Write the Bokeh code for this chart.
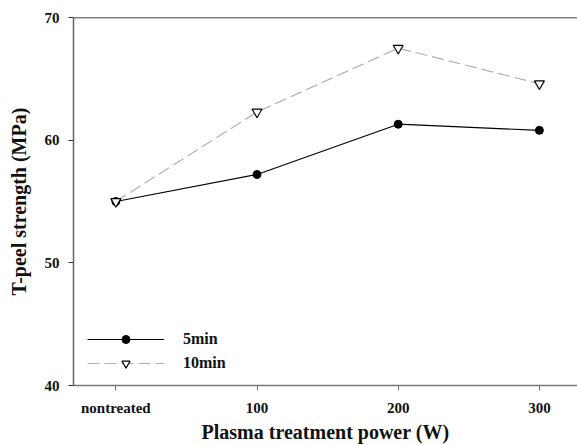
from bokeh.plotting import figure
from bokeh.models import (Range1d, FixedTicker, Span, Legend, LegendItem)
from bokeh.embed import file_html
from bokeh.resources import INLINE

categories = ["nontreated", "100", "200", "300"]
strength_5min = [55.0, 57.2, 61.3, 60.8]
strength_10min = [55.0, 62.3, 67.5, 64.6]
y_ticks = [40, 50, 60, 70]

xs = list(range(len(categories)))
FONT = "Liberation Serif"

p = figure(width=577, height=445, output_backend="svg", toolbar_location=None,
           x_range=Range1d(-0.3, 3.27), y_range=Range1d(40, 70),
           min_border_left=73, min_border_right=0, min_border_top=17,
           min_border_bottom=58)
p.outline_line_color = None
p.grid.visible = False
p.background_fill_color = "white"
p.border_fill_color = "white"

# axes
p.xaxis.ticker = FixedTicker(ticks=xs)
p.xaxis.major_label_overrides = {i: c for i, c in zip(xs, categories)}
p.yaxis.ticker = FixedTicker(ticks=y_ticks)
for ax in (p.xaxis, p.yaxis):
    ax.minor_tick_line_color = None
    ax.major_tick_in = 0
    ax.major_tick_out = 5
    ax.major_label_text_font = FONT
    ax.major_label_text_font_style = "bold"
    ax.major_label_text_font_size = "15px"
    ax.major_label_text_color = "#111111"
    ax.axis_label_text_font = FONT
    ax.axis_label_text_font_style = "bold"
    ax.axis_label_text_font_size = "20px"
    ax.axis_label_text_color = "#111111"
p.xaxis.axis_line_color = "#777777"
p.xaxis.axis_line_width = 1.5
p.xaxis.major_tick_line_color = "#777777"
p.xaxis.major_label_standoff = 9
p.xaxis.axis_label = "Plasma treatment power (W)"
p.xaxis.axis_label_standoff = 2
p.yaxis.axis_line_color = "#666666"
p.yaxis.axis_line_width = 1.5
p.yaxis.major_tick_line_color = "#333333"
p.yaxis.major_label_standoff = 9
p.yaxis.axis_label = "T-peel strength (MPa)"
p.yaxis.axis_label_standoff = 12

# top frame line
p.add_layout(Span(location=70, dimension="width", line_color="black", line_width=1.5))

# series
l5 = p.line(xs, strength_5min, line_color="black", line_width=1.2)
m5 = p.scatter(xs, strength_5min, marker="circle", size=8, fill_color="black", line_color="black")
l10 = p.line(xs, strength_10min, line_color="#b0b0b0", line_width=1.2, line_dash="12 5")
m10 = p.scatter(xs, strength_10min, marker="inverted_triangle", size=10,
                fill_color="white", line_color="black", line_width=1.2)

legend = Legend(items=[LegendItem(label="5min", renderers=[l5, m5]),
                       LegendItem(label="10min", renderers=[l10, m10])],
                location=(14, 12), glyph_width=77, glyph_height=20, spacing=4,
                label_standoff=19, padding=0, margin=0,
                label_text_font=FONT, label_text_font_style="bold",
                label_text_font_size="16px", label_text_color="#111111",
                background_fill_alpha=0, border_line_color=None)
p.add_layout(legend)

open("out.html", "w").write(file_html(p, INLINE))
